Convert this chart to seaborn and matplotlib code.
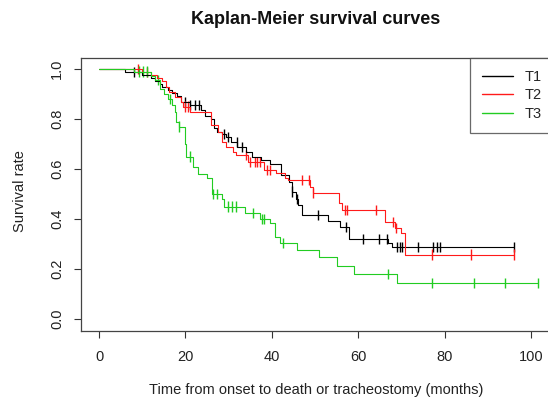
import numpy as np
import pandas as pd
import matplotlib
matplotlib.use("Agg")
import matplotlib.pyplot as plt
import seaborn as sns
from matplotlib.lines import Line2D

# ---- data (Kaplan-Meier step functions) ----
groups = ["T1", "T2", "T3"]

t1_times = [0, 6, 10, 12, 13, 14, 14.5, 16, 17, 18, 19, 21, 23.5, 24.5, 26, 26.5, 27.3, 28.5,
            29.5, 30.5, 32, 34, 35.5, 37.5, 39.6, 42.1, 44, 44.6, 45.5, 46, 47, 53, 55.8,
            57.9, 66.9, 67.8, 96]
t1_surv = [1.0, 0.988, 0.976, 0.964, 0.952, 0.94, 0.928, 0.916, 0.904, 0.892, 0.868, 0.856,
           0.836, 0.812, 0.80, 0.764, 0.75, 0.74, 0.728, 0.708, 0.688, 0.668, 0.648, 0.636,
           0.62, 0.576, 0.55, 0.51, 0.48, 0.456, 0.416, 0.392, 0.368, 0.32, 0.304, 0.288, 0.288]
t1_cens = [8, 20, 21, 22.2, 23.1, 29, 29.9, 31.9, 33, 44.7, 45.8, 50.7, 57.2, 61.1, 64.8,
           66.6, 69, 69.7, 70.2, 73.8, 77.3, 78.2, 78.9, 96]

t2_times = [0, 10, 12, 13.5, 14.5, 15.5, 16.3, 17.5, 19, 19.5, 21, 26, 27.5, 28.5, 29.5, 31,
            31.8, 34.5, 38.3, 41, 43, 43.8, 48.8, 49.5, 55.5, 56.2, 66.3, 68.5, 70, 70.8, 96]
t2_surv = [1.0, 0.988, 0.976, 0.964, 0.952, 0.93, 0.91, 0.89, 0.868, 0.85, 0.83, 0.776, 0.75,
           0.708, 0.688, 0.668, 0.656, 0.628, 0.596, 0.584, 0.564, 0.556, 0.528, 0.504, 0.464,
           0.436, 0.388, 0.364, 0.344, 0.258, 0.258]
t2_cens = [9, 11, 20, 20.6, 34, 35, 36, 36.6, 37.3, 38.9, 39.6, 47, 48.6, 49.6, 57, 57.5,
           64.1, 68, 68.7, 77, 86, 96]

t3_times = [0, 8, 12, 13, 14, 15, 16, 17, 17.5, 17.8, 18.5, 19.8, 20, 20.2, 21.8, 23, 25,
            26.2, 28.5, 29, 33.8, 37.2, 39.6, 40.7, 41.8, 45.8, 50.8, 55, 59, 69, 101.5]
t3_surv = [1.0, 0.99, 0.972, 0.956, 0.92, 0.90, 0.88, 0.856, 0.83, 0.79, 0.77, 0.74, 0.70,
           0.65, 0.61, 0.58, 0.564, 0.50, 0.48, 0.45, 0.424, 0.40, 0.384, 0.33, 0.305, 0.276,
           0.247, 0.212, 0.18, 0.145, 0.145]
t3_cens = [9.3, 10.2, 11.1, 13.7, 16.4, 18.5, 21, 26.4, 27.3, 29.9, 30.8, 31.7, 35.7, 37.7,
           38.2, 42.6, 66.9, 77, 86.8, 94, 101.5]

colors = {"T1": "#000000", "T2": "#FF1A1A", "T3": "#22CC22"}

# ---- build tables ----
steps = []
cens = []
for g, tt, ss, cc in [("T1", t1_times, t1_surv, t1_cens),
                      ("T2", t2_times, t2_surv, t2_cens),
                      ("T3", t3_times, t3_surv, t3_cens)]:
    tt = np.asarray(tt, float)
    ss = np.asarray(ss, float)
    for a, b in zip(tt, ss):
        steps.append({"group": g, "time": a, "surv": b})
    idx = np.searchsorted(tt, np.asarray(cc, float), side="right") - 1
    for c, i in zip(cc, idx):
        cens.append({"group": g, "time": c, "surv": ss[i]})
steps = pd.DataFrame(steps)
cens = pd.DataFrame(cens)

# ---- figure ----
sns.set_style("ticks")
plt.rcParams["font.family"] = ["Liberation Sans", "DejaVu Sans"]

W, H = 548, 403
fig = plt.figure(figsize=(W / 100, H / 100), dpi=100)
L, R, T, B = 81, 557, 58, 331
ax = fig.add_axes([L / W, 1 - B / H, (R - L) / W, (B - T) / H])

sns.lineplot(data=steps, x="time", y="surv", hue="group", palette=colors,
             drawstyle="steps-post", estimator=None, sort=False, lw=0.8,
             legend=False, ax=ax)
for ln in ax.get_lines():
    ln.set_snap(True)
sns.scatterplot(data=cens, x="time", y="surv", hue="group", palette=colors,
                marker="|", s=55, linewidth=1.0, legend=False, ax=ax)

ax.set_xlim(-4.17, 106.0)
ax.set_ylim(-0.048, 1.044)
ax.set_xticks([0, 20, 40, 60, 80, 100])
ax.set_yticks([0.0, 0.2, 0.4, 0.6, 0.8, 1.0])
ax.set_yticklabels(["0.0", "0.2", "0.4", "0.6", "0.8", "1.0"], rotation=90, va="center")
ax.tick_params(axis="both", direction="out", length=5, width=0.8, color="#333333",
               labelsize=10.5, labelcolor="#222222")
ax.tick_params(axis="x", pad=8.5)
ax.tick_params(axis="y", pad=7)
for sp in ax.spines.values():
    sp.set_visible(True)
    sp.set_color("#444444")
    sp.set_linewidth(0.9)

ax.set_xlabel("Time from onset to death or tracheostomy (months)", fontsize=10.5, color="#222222")
ax.set_ylabel("Survival rate", fontsize=10.5, color="#222222")
ax.xaxis.set_label_coords((316 - L) / (R - L), -(390 - B) / (B - T))
ax.xaxis.label.set_va("center")
ax.yaxis.set_label_coords(-(L - 20) / (R - L), (B - 191) / (B - T))
ax.yaxis.label.set_va("center")

fig.text(316 / W, 1 - 20 / H, "Kaplan-Meier survival curves", ha="center", va="center",
         fontsize=13, fontweight="bold", color="#111111")

handles = [Line2D([], [], color=colors[g], lw=1.0) for g in groups]
leg = ax.legend(handles, groups, loc="upper right",
                bbox_to_anchor=((553 - L) / (R - L), 1),
                borderaxespad=0, frameon=True, fancybox=False, fontsize=10.5,
                handlelength=2.15, handletextpad=0.75, labelspacing=0.33,
                borderpad=0.8)
leg.get_frame().set_edgecolor("#444444")
leg.get_frame().set_linewidth(0.9)

fig.savefig("out.png", dpi=100)
